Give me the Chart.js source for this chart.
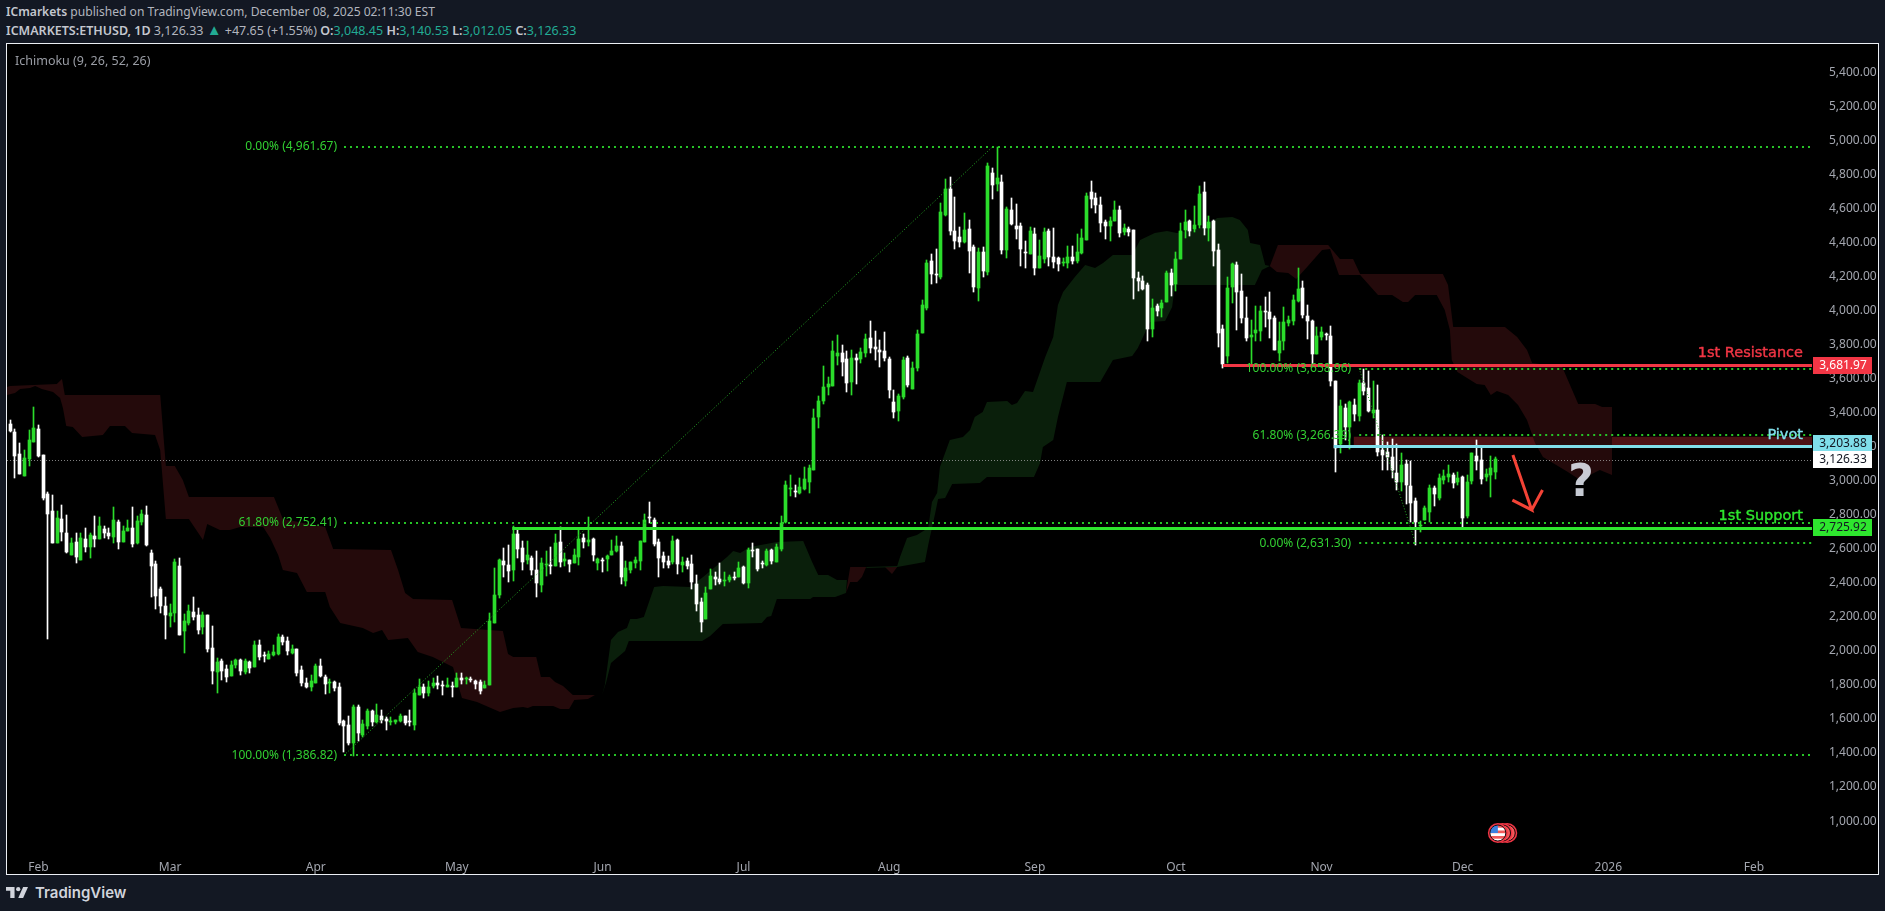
<!DOCTYPE html>
<html>
<head>
<meta charset="utf-8">
<title>ETHUSD</title>
<script src="https://cdn.jsdelivr.net/npm/chart.js@4"></script>
<style>
    html, body { margin: 0; padding: 0; width: 1885px; height: 911px; overflow: hidden; background: #131823; font-family: "Noto Sans", sans-serif; }
    .line { position: absolute; left: 6px; white-space: nowrap; color: #b2b5be; font-size: 12.5px; line-height: 16px; }
    .line b { font-weight: 600; color: #c4c7cf; }
    .up { color: #22ab94; }
    .tri { font-size: 15px; line-height: 14px; }
    #panel { position: absolute; left: 6px; top: 43px; width: 1871px; height: 830px; border: 1px solid #eceff4; background: #000; }
    #chartWrap { position: absolute; left: 0; top: 0; width: 1871px; height: 830px; }
    #legend { position: absolute; left: 8px; top: 9px; color: #9a9da5; font-size: 12.5px; line-height: 16px; }
    #brand { position: absolute; left: 6px; top: 883px; display: flex; align-items: center; color: #d1d4dc; font-family: Inter, sans-serif; font-weight: 600; font-size: 15px; }
    #brand svg { margin-right: 7px; }
</style>
</head>
<body>
<div class="line" style="top:4px;font-size:12.1px"><b>ICmarkets</b> published on TradingView.com, December 08, 2025 02:11:30 EST</div>
<div class="line" style="top:22px"><b>ICMARKETS:ETHUSD, 1D</b> 3,126.33 <span class="up tri">▲</span> +47.65 (+1.55%) <b>O:</b><span class="up">3,048.45</span> <b>H:</b><span class="up">3,140.53</span> <b>L:</b><span class="up">3,012.05</span> <b>C:</b><span class="up">3,126.33</span></div>
<div id="panel">
    <div id="chartWrap"><canvas id="chart"></canvas></div>
    <div id="legend">Ichimoku (9, 26, 52, 26)</div>
</div>
<div id="brand">
    <svg width="22" height="11" viewBox="0 0 36 18" fill="#d1d4dc"><path d="M14 0H0v6h7v12h7V0z"/><circle cx="20" cy="3.5" r="3.5"/><path d="M28 0h8l-8 18h-8l8-18z"/></svg>
    TradingView
</div>
<script>
// Bougies journalières ; jour 0 = 1er février 2025
const firstDay = -6;
const opens = [
    3335,3286,3157,3027,3127,3227,3303,3149,2922,2822,
    2636,2775,2692,2563,2640,2534,2657,2610,2675,2657,
    2716,2692,2669,2757,2640,2704,2722,2634,2757,2798,
    2575,2510,2363,2263,2205,2222,2499,2117,2164,2228,
    2211,2140,2211,2017,1876,1940,1893,1852,1917,1946,
    1876,1934,1905,2034,1976,1952,1976,1981,2081,2058,
    1987,2011,1888,1811,1788,1811,1911,1846,1811,1817,
    1788,1588,1564,1459,1670,1506,1559,1647,1582,1617,
    1600,1582,1582,1588,1617,1588,1564,1741,1788,1752,
    1793,1811,1799,1788,1793,1788,1841,1835,1835,1823,
    1817,1782,1799,2164,2328,2528,2505,2475,2687,2604,
    2534,2546,2475,2387,2505,2505,2499,2640,2528,2534,
    2516,2552,2663,2640,2657,2516,2534,2540,2563,2587,
    2616,2411,2475,2516,2528,2640,2787,2769,2640,2557,
    2528,2522,2651,2505,2528,2510,2393,2287,2187,2364,
    2434,2422,2411,2416,2434,2434,2493,2399,2593,2599,
    2516,2505,2593,2522,2599,2757,2951,2939,2928,2951,
    2992,3063,3374,3468,3550,3556,3732,3750,3715,3580,
    3721,3715,3750,3838,3785,3768,3762,3715,3462,3409,
    3491,3721,3539,3662,3868,4014,4291,4214,4197,4561,
    4714,4467,4432,4402,4479,4373,4132,4343,4226,4808,
    4743,4755,4355,4590,4496,4496,4343,4332,4449,4250,
    4302,4467,4314,4308,4279,4279,4314,4291,4338,4414,
    4696,4661,4620,4520,4496,4526,4590,4461,4479,4473,
    4191,4173,4150,3891,4026,4014,4050,4220,4156,4302,
    4473,4526,4479,4502,4696,4485,4526,4355,3891,3732,
    4138,4267,4114,3956,3844,3867,3879,3997,3991,3956,
    3750,3821,3926,3938,4056,4132,3967,3938,3744,3844,
    3862,3850,3585,3215,3427,3315,3444,3380,3574,3544,
    3397,3415,3180,3168,3139,3045,2992,3098,2968,2880,
    2734,2769,2816,2957,2898,3004,3021,3033,2992,3021,
    2792,2998,3145,3121,3021,3033,3048.45
];
const highs = [
    3356,3302,3219,3180,3298,3431,3327,3153,2931,2916,
    2822,2855,2798,2661,2690,2690,2720,2690,2792,2788,
    2734,2720,2845,2769,2734,2769,2845,2792,2828,2851,
    2593,2528,2375,2318,2275,2540,2546,2217,2269,2314,
    2252,2228,2211,2146,1958,1952,1917,1940,1952,1952,
    1952,1940,2058,2064,1993,1999,2034,2099,2093,2081,
    2034,2011,1911,1841,1858,1923,1952,1858,1835,1823,
    1811,1594,1617,1682,1682,1594,1658,1653,1688,1653,
    1611,1611,1594,1629,1617,1653,1776,1835,1805,1823,
    1841,1852,1823,1841,1817,1868,1870,1846,1846,1829,
    1829,1823,2220,2485,2538,2604,2622,2734,2720,2646,
    2646,2557,2587,2546,2587,2610,2687,2728,2575,2534,
    2599,2710,2687,2787,2663,2546,2546,2563,2651,2675,
    2640,2528,2522,2552,2646,2804,2875,2781,2657,2581,
    2557,2675,2657,2552,2546,2563,2446,2311,2375,2481,
    2463,2516,2463,2446,2463,2522,2499,2604,2634,2599,
    2528,2599,2599,2628,2792,2998,3033,2975,3016,3080,
    3092,3421,3497,3674,3609,3821,3856,3797,3762,3768,
    3744,3780,3862,3938,3879,3826,3873,3727,3533,3509,
    3727,3732,3697,3885,4061,4296,4332,4361,4631,4772,
    4784,4667,4490,4573,4531,4385,4367,4373,4866,4837,
    4961,4796,4608,4661,4626,4514,4408,4490,4485,4414,
    4485,4479,4485,4314,4308,4379,4379,4449,4479,4690,
    4761,4690,4667,4531,4549,4643,4614,4508,4490,4473,
    4226,4202,4161,4067,4038,4061,4232,4244,4343,4514,
    4590,4531,4614,4731,4755,4555,4531,4391,3915,4197,
    4279,4285,4214,4079,3944,4026,4026,4079,4108,3967,
    3932,4020,3967,4091,4249,4173,4032,3944,3903,3903,
    3867,3909,3585,3474,3450,3468,3480,3591,3656,3644,
    3585,3562,3268,3227,3245,3215,3162,3121,3115,2898,
    2763,2851,2974,2968,3039,3063,3092,3045,3051,3027,
    3033,3162,3239,3192,3068,3145,3140.53
];
const lows = [
    3286,3018,3039,3027,3086,3227,3139,2886,2072,2636,
    2636,2645,2573,2563,2516,2534,2581,2546,2610,2657,
    2663,2657,2634,2598,2640,2704,2610,2628,2739,2616,
    2316,2246,2222,2070,2140,2170,2093,1987,2152,2181,
    2099,2099,1993,1805,1752,1829,1817,1852,1899,1858,
    1864,1870,1905,1946,1934,1952,1970,1976,2034,1976,
    1981,1852,1793,1782,1764,1811,1846,1746,1752,1764,
    1564,1406,1447,1382,1470,1494,1541,1559,1576,1576,
    1535,1564,1570,1582,1564,1559,1535,1741,1723,1735,
    1782,1776,1741,1788,1729,1788,1805,1805,1817,1776,
    1746,1782,1799,2164,2311,2434,2405,2411,2546,2475,
    2510,2446,2317,2346,2440,2452,2499,2493,2499,2463,
    2516,2505,2604,2616,2528,2475,2463,2469,2563,2581,
    2393,2381,2458,2487,2475,2640,2751,2616,2434,2487,
    2487,2510,2452,2463,2481,2364,2234,2111,2187,2364,
    2387,2393,2381,2405,2416,2434,2393,2369,2552,2469,
    2487,2499,2510,2522,2587,2751,2910,2904,2922,2945,
    2928,3060,3309,3450,3503,3556,3680,3615,3521,3503,
    3568,3691,3727,3750,3709,3668,3703,3486,3368,3351,
    3480,3550,3539,3644,3868,4003,4155,4161,4185,4555,
    4443,4361,4373,4396,4220,4108,4056,4197,4208,4655,
    4702,4332,4308,4502,4420,4261,4250,4332,4208,4250,
    4279,4261,4250,4232,4261,4250,4273,4279,4332,4414,
    4602,4573,4461,4420,4408,4526,4432,4443,4438,4067,
    4114,4120,3821,3844,3967,3962,4050,4085,4114,4302,
    4426,4438,4461,4485,4443,4408,4261,3785,3662,3691,
    4044,3885,3926,3821,3679,3821,3821,3903,3838,3768,
    3703,3768,3909,3914,4050,3956,3832,3679,3744,3826,
    3826,3556,3051,3162,3239,3186,3350,3350,3503,3403,
    3368,3145,3063,3063,3016,2945,2939,2863,2757,2625,
    2698,2769,2757,2851,2886,2980,2992,2957,2974,2716,
    2780,2980,3063,2980,2998,2904,3012.05
];
const closes = [
    3292,3145,3039,3133,3239,3309,3145,2896,2804,2636,
    2781,2698,2581,2634,2551,2663,2610,2681,2657,2734,
    2692,2675,2769,2640,2704,2722,2628,2763,2804,2622,
    2499,2322,2263,2211,2222,2522,2093,2175,2234,2199,
    2122,2211,2011,1882,1934,1882,1846,1917,1946,1882,
    1940,1899,2034,1964,1970,1981,1993,2081,2052,1999,
    2011,1870,1811,1788,1823,1911,1852,1805,1817,1782,
    1576,1559,1459,1670,1517,1570,1647,1582,1623,1594,
    1588,1588,1594,1617,1576,1582,1752,1788,1752,1788,
    1811,1799,1793,1799,1788,1841,1831,1839,1829,1805,
    1764,1799,2175,2328,2534,2505,2469,2687,2599,2522,
    2563,2475,2399,2516,2510,2499,2634,2522,2540,2510,
    2563,2657,2640,2651,2563,2540,2530,2557,2587,2616,
    2434,2487,2522,2534,2646,2769,2781,2628,2546,2522,
    2505,2646,2510,2522,2499,2405,2275,2170,2340,2440,
    2422,2405,2416,2434,2428,2487,2399,2593,2587,2481,
    2510,2587,2528,2610,2751,2975,2957,2933,2963,3010,
    3074,3368,3468,3550,3568,3762,3750,3697,3574,3721,
    3709,3756,3832,3780,3774,3756,3721,3533,3403,3497,
    3709,3562,3662,3862,4032,4279,4214,4208,4579,4714,
    4467,4408,4402,4473,4349,4138,4343,4232,4849,4737,
    4778,4355,4596,4508,4479,4361,4338,4467,4250,4320,
    4461,4314,4285,4273,4285,4314,4291,4343,4426,4673,
    4655,4620,4514,4496,4526,4590,4455,4485,4461,4191,
    4173,4126,3891,4014,3997,4044,4220,4150,4302,4467,
    4520,4467,4502,4684,4485,4520,4349,3868,3685,4132,
    4273,4108,3956,3838,3856,3885,3997,3991,3950,3768,
    3821,3932,3944,4061,4126,3973,3938,3744,3850,3873,
    3856,3585,3192,3439,3315,3462,3392,3574,3527,3409,
    3415,3168,3151,3139,3063,2992,3092,2974,2869,2757,
    2739,2839,2957,2922,3016,3027,3039,2986,3016,2780,
    2992,3162,3115,3010,3039,3074,3126.33
];

// Axes
const axisDays = [-6.7, 377.34];
const axisPrices = [853.75, 5565.5];
const priceTicks = [1000,1200,1400,1600,1800,2000,2200,2400,2600,2800,3000,3200,3400,3600,3800,4000,4200,4400,4600,4800,5000,5200,5400];
const monthDays = [0, 28, 59, 89, 120, 150, 181, 212, 242, 273, 303, 334, 365];
const monthLabels = ['Feb', 'Mar', 'Apr', 'May', 'Jun', 'Jul', 'Aug', 'Sep', 'Oct', 'Nov', 'Dec', '2026', 'Feb'];

// Nuage Ichimoku, lu morceau par morceau
const red1TopDays = [-6.7,-6.1,3.9,5,5.6,25.9,27.1,29,30.7,32,50.1,52,61,62.7,75,76.5,78,79.7,88,89.9,98.8,99.9,101,105.9,106.9,108.8,109.9,111.6,113.7,119.9];
const red1Top = [3550,3556,3568,3597,3503,3503,3086,3086,3004,2904,2904,2775,2728,2599,2593,2475,2340,2305,2299,2134,2117,1982,1964,1964,1847,1847,1817,1794,1741,1741];
const red1BottomDays = [-6.7,-5,-3.9,-1.8,-0.7,0.7,3.1,4.6,5.2,5.9,7.3,9.3,13.7,15.2,18.4,19.9,24.8,25.9,27.1,32,35,35.9,38.6,40.7,42.9,47.8,49.3,51,52,55,57.1,61,62,64.2,69,71.2,73.1,74.4,78.6,80.7,83.9,88.2,90.1,93.3,98.2,101,103.1,104.1,105.2,109.5,111,112.9,114,116.9,118.4,119.9];
const red1Bottom = [3503,3515,3539,3545,3556,3539,3521,3486,3427,3321,3315,3257,3268,3321,3321,3280,3268,3180,2775,2775,2652,2746,2710,2710,2728,2728,2663,2563,2475,2458,2346,2346,2258,2164,2134,2105,2123,2064,2076,1994,1964,1905,1723,1700,1641,1664,1670,1664,1676,1676,1659,1659,1712,1717,1741,1741];
const green1TopDays = [119.9,120.5,121.8,123.3,125.2,125.9,127.3,128.8,131,132.9,138.6,141.4,146.5,147.8,149.3,151.4,157.1,162.7,164.6,165.9,168,169.9,172];
const green1Top = [1741,1800,2064,2111,2134,2187,2187,2199,2375,2381,2375,2434,2552,2587,2575,2610,2640,2646,2522,2446,2446,2417,2417];
const green1BottomDays = [119.9,120.8,121.8,124.8,125.6,141.2,142.9,145.6,153.9,155,155.9,157.1,164.2,164.8,169.5,171.8,172];
const green1Bottom = [1741,1817,1929,2000,2058,2058,2088,2158,2164,2199,2205,2305,2305,2317,2317,2340,2417];
const red2TopDays = [171.8,172.7,176.1];
const red2Top = [2340,2493,2493];
const red2BottomDays = [171.8,172.7,174.2,175.2,176.1];
const red2Bottom = [2340,2405,2405,2434,2493];
const red3TopDays = [180.1,182.7];
const red3Top = [2493,2493];
const red3BottomDays = [180.1,181.6,182.7];
const red3Bottom = [2493,2452,2493];
const green2TopDays = [176.1,182.7,183.3,184.8,186.9,189.3,190.1,191.2,191.8,193.9,196.7,198.2,199.2,200.9,201.8,206.1,207.1,208.2,209.9,211.6,214.2,215.9,216.9,218,220.5,222.7,224.8,226.5,228.6,232.7,234.4,237.5,240.1,242.2,245.6,247.8,250.8,254,255.6,257.3,257.8,259.9,261,262];
const green2Top = [2493,2499,2552,2663,2681,2722,2875,2928,3080,3239,3257,3298,3374,3404,3462,3468,3445,3456,3527,3521,3727,3844,4032,4109,4197,4267,4250,4279,4326,4326,4414,4455,4467,4455,4473,4490,4543,4549,4531,4473,4396,4385,4267,4261];
const green2BottomDays = [176.1,182.7,188.6,189.3,190.8,191.4,192.9,194.4,200.3,201.8,211.8,213.1,213.7,215.9,216.9,218.8,225.9,228.6,232.7,233.9,236.5,239.7,241.2,241.8,258.8,260.3,262];
const green2Bottom = [2487,2493,2522,2622,2810,2892,2898,2980,2986,3022,3022,3104,3198,3239,3374,3580,3580,3709,3732,3780,3932,3938,4020,4150,4150,4238,4261];
const red4TopDays = [262,263.7,274.4,276.9,279.7,281.2,298.8,299.9,301,312,314.6,316.7,317.8,324.2,327.6,331.2,332.7,334.8];
const red4Top = [4261,4385,4385,4302,4302,4214,4214,4150,3903,3903,3844,3768,3691,3668,3450,3450,3433,3433];
const red4BottomDays = [262,263.5,265.9,267.6,270.1,273.1,274.8,276.7,281.2,285,288,290.3,291.4,292.9,297.5,299.2,300.3,300.7,301.9,306,307.7,309,310.3,312.7,314.8,316.7,318.4,320.1,325.4,328,332.2,334.8];
const red4Bottom = [4261,4226,4220,4185,4261,4355,4361,4208,4208,4091,4091,4050,4050,4091,4091,4003,3885,3709,3638,3568,3562,3503,3527,3503,3445,3356,3221,3139,3051,3004,3063,3033];

// Retracements de Fibonacci
const fibUpStart = 65;
const fibUpEnd = 203;
const fibUpPrices = [4961.67, 2752.41, 1386.82];
const fibUpLabels = ['0.00% (4,961.67)', '61.80% (2,752.41)', '100.00% (1,386.82)'];
const fibDownStart = 281;
const fibDownEnd = 293;
const fibDownPrices = [3658.96, 3266.39, 2631.30];
const fibDownLabels = ['100.00% (3,658.96)', '61.80% (3,266.39)', '0.00% (2,631.30)'];

// Niveaux dessinés
const resistancePrice = 3681.97;
const resistanceStart = 252;
const pivotPrice = 3203.88;
const pivotStart = 275.6;
const supportPrice = 2725.92;
const supportStart = 100.8;
const lastPrice = 3126.33;
const zoneStart = 279.8;
const zonePrices = [3258, 3204];

// Flèche rouge et point d'interrogation
const arrowDays = [313.7, 317.7, 313.6, 317.7, 320];
const arrowPrices = [3151, 2828, 2886, 2828, 2945];
const questionDay = 328.2;
const questionPrice = 2980;
const eventDays = [312.5, 311.5, 310.5];

const green = '#2bdc2b';
const white = '#ffffff';
const candleDays = opens.map((_, i) => firstDay + i);
const candleColors = opens.map((o, i) => (closes[i] >= o ? green : white));

function cloud(topDays, top, bottomDays, bottom, color) {
    return [
        { type: 'line', data: topDays.map((d, i) => ({ x: d, y: top[i] })), fill: '+1', backgroundColor: color, borderWidth: 0, pointRadius: 0, tension: 0, order: 20 },
        { type: 'line', data: bottomDays.map((d, i) => ({ x: d, y: bottom[i] })), fill: false, borderWidth: 0, pointRadius: 0, tension: 0, order: 20 }
    ];
}

function level(startDay, endDay, price, color, width, dash, order) {
    return {
        type: 'line',
        data: [{ x: startDay, y: price }, { x: endDay, y: price }],
        borderColor: color,
        borderWidth: width,
        borderDash: dash,
        borderCapStyle: 'butt',
        pointRadius: 0,
        fill: false,
        order: order,
        snapY: true
    };
}

function polyline(days, prices, color, width, dash, order) {
    return {
        type: 'line',
        data: days.map((d, i) => ({ x: d, y: prices[i] })),
        borderColor: color,
        borderWidth: width,
        borderDash: dash,
        pointRadius: 0,
        tension: 0,
        fill: false,
        order: order
    };
}

const cloudRed = '#240a0b';
const cloudGreen = '#0a1f0b';
const fibColor = '#27c427';
const rightDay = axisDays[1];

const datasets = [
    ...cloud(red1TopDays, red1Top, red1BottomDays, red1Bottom, cloudRed),
    ...cloud(green1TopDays, green1Top, green1BottomDays, green1Bottom, cloudGreen),
    ...cloud(green2TopDays, green2Top, green2BottomDays, green2Bottom, cloudGreen),
    ...cloud(red2TopDays, red2Top, red2BottomDays, red2Bottom, cloudRed),
    ...cloud(red3TopDays, red3Top, red3BottomDays, red3Bottom, cloudRed),
    ...cloud(red4TopDays, red4Top, red4BottomDays, red4Bottom, cloudRed),
    ...cloud([zoneStart, rightDay], [zonePrices[0], zonePrices[0]], [zoneStart, rightDay], [zonePrices[1], zonePrices[1]], 'rgba(125,28,33,0.62)'),
    level(axisDays[0], rightDay, lastPrice, 'rgba(170,170,170,0.75)', 1, [1, 2], 12),
    {
        type: 'bar',
        data: candleDays.map((d, i) => ({ x: d, y: [lows[i], highs[i]] })),
        backgroundColor: candleColors,
        barThickness: 1,
        grouped: false,
        order: 11
    },
    {
        type: 'bar',
        data: candleDays.map((d, i) => ({ x: d, y: [opens[i], closes[i]] })),
        backgroundColor: candleColors,
        barThickness: 3,
        minBarLength: 1,
        grouped: false,
        order: 10
    },
    polyline([fibUpStart, fibUpEnd], [fibUpPrices[2], fibUpPrices[0]], '#25a825', 1, [1, 2], 9),
    polyline([fibDownStart, fibDownEnd], [fibDownPrices[0], fibDownPrices[2]], '#25a825', 1, [1, 2], 9),
    ...fibUpPrices.map(p => level(fibUpStart, rightDay, p, fibColor, 2, [2, 4], 8)),
    ...fibDownPrices.map(p => level(fibDownStart, rightDay, p, fibColor, 2, [2, 4], 8)),
    level(resistanceStart, rightDay, resistancePrice, '#f23645', 3, [], 5),
    level(pivotStart, rightDay, pivotPrice, '#80deea', 3, [], 5),
    level(supportStart, rightDay, supportPrice, '#2ee62e', 3, [], 5),
    polyline(arrowDays, arrowPrices, '#f44336', 3, [], 4)
];

function money(v) {
    return v.toLocaleString('en-US', { minimumFractionDigits: 2, maximumFractionDigits: 2 });
}

const overlayPlugin = {
    id: 'overlay',
    // Aligne bougies et niveaux sur la grille de pixels
    afterDatasetsUpdate(chart) {
        chart.data.datasets.forEach((ds, i) => {
            const meta = chart.getDatasetMeta(i);
            if (meta.type === 'bar') {
                meta.data.forEach(el => {
                    el.x = Math.floor(el.x) + 0.5;
                    el.y = Math.round(el.y);
                    el.base = Math.round(el.base);
                    if (el.y === el.base) el.y -= 1;
                });
            } else if (ds.snapY) {
                const odd = ds.borderWidth % 2 === 1;
                meta.data.forEach(el => {
                    el.y = odd ? Math.ceil(el.y) + 0.5 : Math.round(el.y);
                });
            }
        });
    },
    afterDraw(chart) {
        const ctx = chart.ctx;
        const xs = chart.scales.x;
        const ys = chart.scales.y;
        const right = chart.chartArea.right;

        ctx.save();
        ctx.textBaseline = 'middle';

        // Libellés des retracements
        ctx.font = '12px "Noto Sans"';
        ctx.textAlign = 'right';
        ctx.fillStyle = '#32d032';
        fibUpPrices.forEach((p, i) => {
            ctx.fillText(fibUpLabels[i], xs.getPixelForValue(fibUpStart) - 7, ys.getPixelForValue(p));
        });
        fibDownPrices.forEach((p, i) => {
            ctx.fillText(fibDownLabels[i], xs.getPixelForValue(fibDownStart) - 8, ys.getPixelForValue(p));
        });

        // Noms des niveaux
        const names = [
            ['1st Resistance', '#f23645', resistancePrice, -11],
            ['Pivot', '#80deea', pivotPrice, -11],
            ['1st Support', '#2ee62e', supportPrice, -11]
        ];
        ctx.font = '14.5px "DejaVu Sans"';
        ctx.lineWidth = 0.4;
        names.forEach(([name, color, price, gap]) => {
            ctx.fillStyle = color;
            ctx.strokeStyle = color;
            ctx.fillText(name, right - 9, ys.getPixelForValue(price) + gap);
            ctx.strokeText(name, right - 9, ys.getPixelForValue(price) + gap);
        });

        // Point d'interrogation
        ctx.font = 'bold 44px "DejaVu Sans"';
        ctx.textAlign = 'center';
        ctx.fillStyle = 'rgba(225,230,240,0.88)';
        ctx.fillText('?', xs.getPixelForValue(questionDay), ys.getPixelForValue(questionPrice));

        // Étiquettes de prix (celle du pivot remonte pour laisser la place au dernier cours)
        const tags = [
            [resistancePrice, '#f23645', '#ffffff', 0],
            [pivotPrice, '#80deea', '#131722', -3],
            [lastPrice, '#ffffff', '#131722', 0],
            [supportPrice, '#2ee62e', '#131722', 0]
        ];
        ctx.font = '12px "Noto Sans"';
        tags.forEach(([price, bg, fg, shift]) => {
            const y = Math.round(ys.getPixelForValue(price)) + shift;
            ctx.fillStyle = bg;
            ctx.fillRect(right + 1, y - 8, 59, 17);
            ctx.fillStyle = fg;
            ctx.fillText(money(price), right + 31, y + 0.5);
        });

        // Pastilles d'événements économiques
        const flagY = chart.height - 41;
        eventDays.forEach((d, i) => {
            const cx = xs.getPixelForValue(d);
            ctx.beginPath();
            ctx.arc(cx, flagY, 10, 0, Math.PI * 2);
            ctx.fillStyle = '#f23645';
            ctx.fill();
            ctx.beginPath();
            ctx.arc(cx, flagY, 8, 0, Math.PI * 2);
            ctx.fillStyle = i === eventDays.length - 1 ? '#ffffff' : '#7a1c24';
            ctx.fill();
            ctx.save();
            ctx.clip();
            if (i === eventDays.length - 1) {
                ctx.fillStyle = '#f15a5a';
                for (let s = -8; s < 8; s += 5.5) ctx.fillRect(cx - 8, flagY + s, 16, 2.7);
                ctx.fillStyle = '#3b82e0';
                ctx.fillRect(cx - 8, flagY - 8, 8, 8);
            } else {
                ctx.fillStyle = '#f15a5a';
                ctx.fillRect(cx - 8, flagY - 8, 16, 16);
            }
            ctx.restore();
            ctx.beginPath();
            ctx.arc(cx, flagY, 8, 0, Math.PI * 2);
            ctx.strokeStyle = '#17080a';
            ctx.lineWidth = 1;
            ctx.stroke();
        });
        ctx.restore();
    }
};

new Chart(document.getElementById('chart'), {
    type: 'bar',
    data: { datasets: datasets },
    plugins: [overlayPlugin],
    options: {
        responsive: true,
        maintainAspectRatio: false,
        animation: false,
        events: [],
        layout: { padding: 0 },
        plugins: { legend: { display: false }, tooltip: { enabled: false } },
        scales: {
            x: {
                type: 'linear',
                offset: false,
                min: axisDays[0],
                max: axisDays[1],
                grid: { display: false },
                border: { display: false },
                afterBuildTicks(scale) { scale.ticks = monthDays.map(v => ({ value: v })); },
                afterFit(scale) { scale.height = 28; scale.paddingLeft = 0; scale.paddingRight = 0; },
                ticks: {
                    autoSkip: false,
                    maxRotation: 0,
                    padding: 6,
                    color: '#a3a6af',
                    font: { family: '"Noto Sans"', size: 12 },
                    callback: value => monthLabels[monthDays.indexOf(value)]
                }
            },
            y: {
                type: 'linear',
                position: 'right',
                min: axisPrices[0],
                max: axisPrices[1],
                grid: { display: false },
                border: { display: false },
                afterBuildTicks(scale) { scale.ticks = priceTicks.map(v => ({ value: v })); },
                afterFit(scale) { scale.width = 66; scale.paddingTop = 0; scale.paddingBottom = 0; },
                ticks: {
                    autoSkip: false,
                    padding: 9,
                    color: '#a3a6af',
                    font: { family: '"Noto Sans"', size: 12 },
                    callback: value => money(value)
                }
            }
        }
    }
});
</script>
</body>
</html>
